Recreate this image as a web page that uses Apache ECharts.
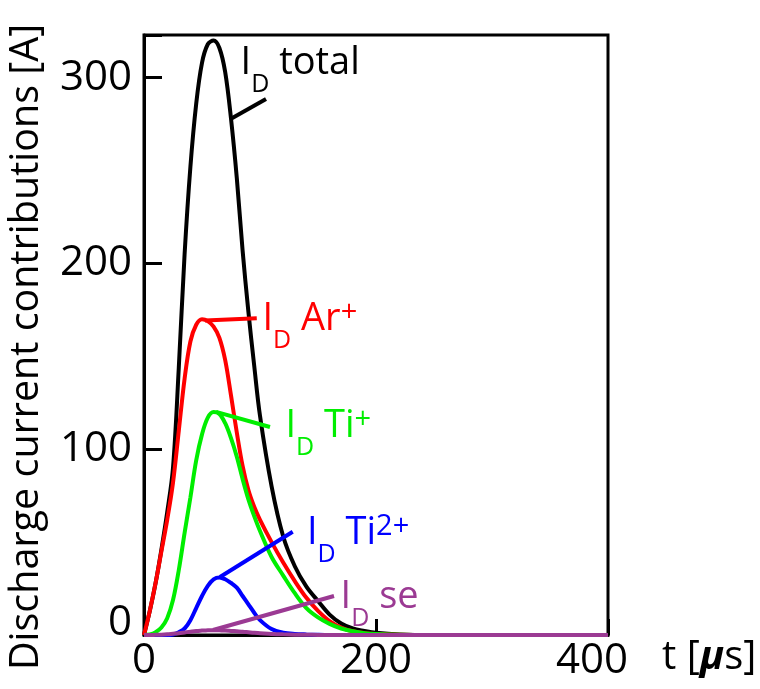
<!DOCTYPE html>
<html>
<head>
<meta charset="utf-8">
<script src="https://cdn.jsdelivr.net/npm/echarts@6/dist/echarts.min.js"></script>
<style>
html, body { margin: 0; padding: 0; background: #ffffff; }
#chart { width: 760px; height: 689px; }
</style>
</head>
<body>
<div id="chart"></div>
<script>
// Time base of the discharge pulse [µs]
const time = [0, 5, 10, 15, 20, 25, 30, 35, 40, 45, 50, 55, 60, 65, 70, 75, 80, 85, 90, 95, 100,
              110, 120, 130, 140, 150, 160, 170, 180, 190, 200, 220, 250, 300, 400];

// Discharge current contributions [A]
const idTotal = [0, 13, 28, 46, 66, 90, 144, 205, 252, 286, 308, 318, 320, 316, 303, 278, 246, 207, 174, 145, 118,
                 80, 53, 37, 26, 18.3, 11, 6.2, 3.5, 2.2, 1.2, 0.3, 0, 0, 0];
const idAr = [0, 13, 28, 45, 62, 82, 110, 138, 158, 167, 170, 169, 166, 160, 148, 129, 109, 91, 78, 69, 62,
              50, 39, 29, 20, 13, 7.5, 4, 2, 1, 0.5, 0.1, 0, 0, 0];
const idTi1 = [0, 0.3, 1.5, 4, 9, 18.8, 35, 55, 74, 94, 108, 117, 120, 119, 114, 106, 96, 84, 73, 64, 56,
               42, 32, 22.5, 14.5, 9.5, 6, 3.5, 2, 1, 0.5, 0.1, 0, 0, 0];
const idTi2 = [0, 0, 0, 0, 0, 0.3, 1.5, 3.5, 8, 14.5, 21, 26.5, 30, 31, 30, 28, 25.5, 21, 16.5, 12, 8,
               3.2, 1.3, 0.6, 0.3, 0.1, 0, 0, 0, 0, 0, 0, 0, 0, 0];
const idSe = [0, 0, 0.1, 0.2, 0.4, 0.7, 1, 1.4, 1.8, 2.1, 2.4, 2.5, 2.6, 2.5, 2.4, 2.2, 2, 1.8, 1.5, 1.2, 1,
              0.6, 0.35, 0.2, 0.1, 0.05, 0, 0, 0, 0, 0, 0, 0, 0, 0];

// Axis ticks
const xTicks = [0, 200, 400];
const yTicks = [0, 100, 200, 300];

// Leader lines: [t, I] start (on the curve) and end (near the label)
const leaderTotal = [[75.4, 278], [105.2, 288.6]];
const leaderAr = [[52.6, 169.3], [97.2, 170.5]];
const leaderTi1 = [[62.1, 120.1], [108.6, 112]];
const leaderTi2 = [[65.5, 31.2], [128.2, 55.6]];
const leaderSe = [[59.5, 2.7], [163.8, 21]];

// Label anchors [t, I]
const labelTotal = [82.8, 308];
const labelAr = [101.7, 170.2];
const labelTi1 = [121.5, 112.5];
const labelTi2 = [140, 55];
const labelSe = [169, 20.5];

const colors = {
  total: '#000000',
  ar: '#ff0000',
  ti1: '#00ee00',
  ti2: '#0000ff',
  se: '#9b3a93'
};

const FONT = '"Open Sans", "DejaVu Sans", sans-serif';

function pairs(ys) {
  return time.map((t, i) => [t, ys[i]]);
}

function curve(name, ys, color, z) {
  return {
    name: name,
    type: 'line',
    data: pairs(ys),
    showSymbol: false,
    smooth: 0.35,
    lineStyle: { color: color, width: 4 },
    itemStyle: { color: color },
    z: z,
    silent: true
  };
}

function leader(pts, color, z) {
  return {
    type: 'line',
    data: pts,
    showSymbol: false,
    lineStyle: { color: color, width: 4, cap: 'butt' },
    z: z,
    silent: true
  };
}

function richFor(color) {
  return {
    m: { fontFamily: FONT, fontSize: 38, color: color },
    s: { fontFamily: FONT, fontSize: 25, color: color, padding: [44, 0, 0, 0] },
    p: { fontFamily: FONT, fontSize: 29, color: color, padding: [0, 0, 12, 0] }
  };
}

function tag(pos, text, color) {
  return {
    type: 'scatter',
    data: [pos],
    symbolSize: 1,
    itemStyle: { color: 'rgba(0,0,0,0)', opacity: 1 },
    z: 20,
    silent: true,
    label: {
      show: true,
      position: 'right',
      distance: 0,
      opacity: 1,
      formatter: text,
      rich: richFor(color)
    }
  };
}

const chart = echarts.init(document.getElementById('chart'), null, { renderer: 'canvas' });

chart.setOption({
  animation: false,
  backgroundColor: '#ffffff',
  grid: {
    left: 144, right: 152, top: 35, bottom: 54,
    outerBoundsMode: 'none',
    containLabel: false,
    show: true, borderColor: '#000000', borderWidth: 3, backgroundColor: 'transparent'
  },
  xAxis: {
    type: 'value',
    min: xTicks[0], max: xTicks[xTicks.length - 1], interval: xTicks[1] - xTicks[0],
    splitLine: { show: false },
    axisLine: { show: true, onZero: false, lineStyle: { color: '#000', width: 3 } },
    axisTick: { show: true, inside: true, length: 16, lineStyle: { color: '#000', width: 3 } },
    axisLabel: {
      color: '#000', fontFamily: FONT, fontSize: 42, margin: 5,
      // the last label is pulled in to leave room for the axis name
      formatter: v => (v === xTicks[xTicks.length - 1] ? '{e|' + v + '}' : String(v)),
      rich: { e: { fontFamily: FONT, fontSize: 42, color: '#000', padding: [0, 32, 0, 0] } }
    },
    name: '{a|t [}{mu|μ}{a|s]}',
    nameLocation: 'end',
    nameGap: 54,
    nameTextStyle: {
      verticalAlign: 'top',
      padding: [3, 0, 0, 0],
      rich: {
        a: { fontFamily: FONT, fontSize: 40, color: '#000' },
        mu: { fontFamily: FONT, fontSize: 40, color: '#000', fontStyle: 'italic', fontWeight: 'bold' }
      }
    }
  },
  yAxis: {
    type: 'value',
    min: yTicks[0], max: 323, interval: yTicks[1] - yTicks[0],
    splitLine: { show: false },
    axisLine: { show: true, lineStyle: { color: '#000', width: 3 } },
    axisTick: { show: true, inside: true, length: 18, lineStyle: { color: '#000', width: 3 } },
    axisLabel: {
      color: '#000', fontFamily: FONT, fontSize: 42, margin: 12,
      formatter: v => (v === 0 ? '{z|0}' : (yTicks.indexOf(v) >= 0 ? String(v) : '')),
      rich: { z: { fontFamily: FONT, fontSize: 42, color: '#000', padding: [0, 0, 24, 0] } }
    },
    name: '{t|Discharge current contributions [A]}',
    nameLocation: 'middle',
    nameGap: 97,
    nameRotate: 90,
    nameTextStyle: {
      rich: { t: { color: '#000', fontFamily: FONT, fontSize: 39.5, padding: [0, 24, 0, 0] } }
    }
  },
  series: [
    curve('I_D total', idTotal, colors.total, 2),
    curve('I_D Ar+', idAr, colors.ar, 3),
    curve('I_D Ti+', idTi1, colors.ti1, 4),
    curve('I_D Ti2+', idTi2, colors.ti2, 5),
    curve('I_D se', idSe, colors.se, 6),
    leader(leaderTotal, colors.total, 2),
    leader(leaderAr, colors.ar, 3),
    leader(leaderTi1, colors.ti1, 4),
    leader(leaderTi2, colors.ti2, 5),
    leader(leaderSe, colors.se, 6),
    tag(labelTotal, '{m|I}{s|D}{m| total}', colors.total),
    tag(labelAr, '{m|I}{s|D}{m| Ar}{p|+}', colors.ar),
    tag(labelTi1, '{m|I}{s|D}{m| Ti}{p|+}', colors.ti1),
    tag(labelTi2, '{m|I}{s|D}{m| Ti}{p|2+}', colors.ti2),
    tag(labelSe, '{m|I}{s|D}{m| se}', colors.se)
  ]
});
</script>
</body>
</html>
